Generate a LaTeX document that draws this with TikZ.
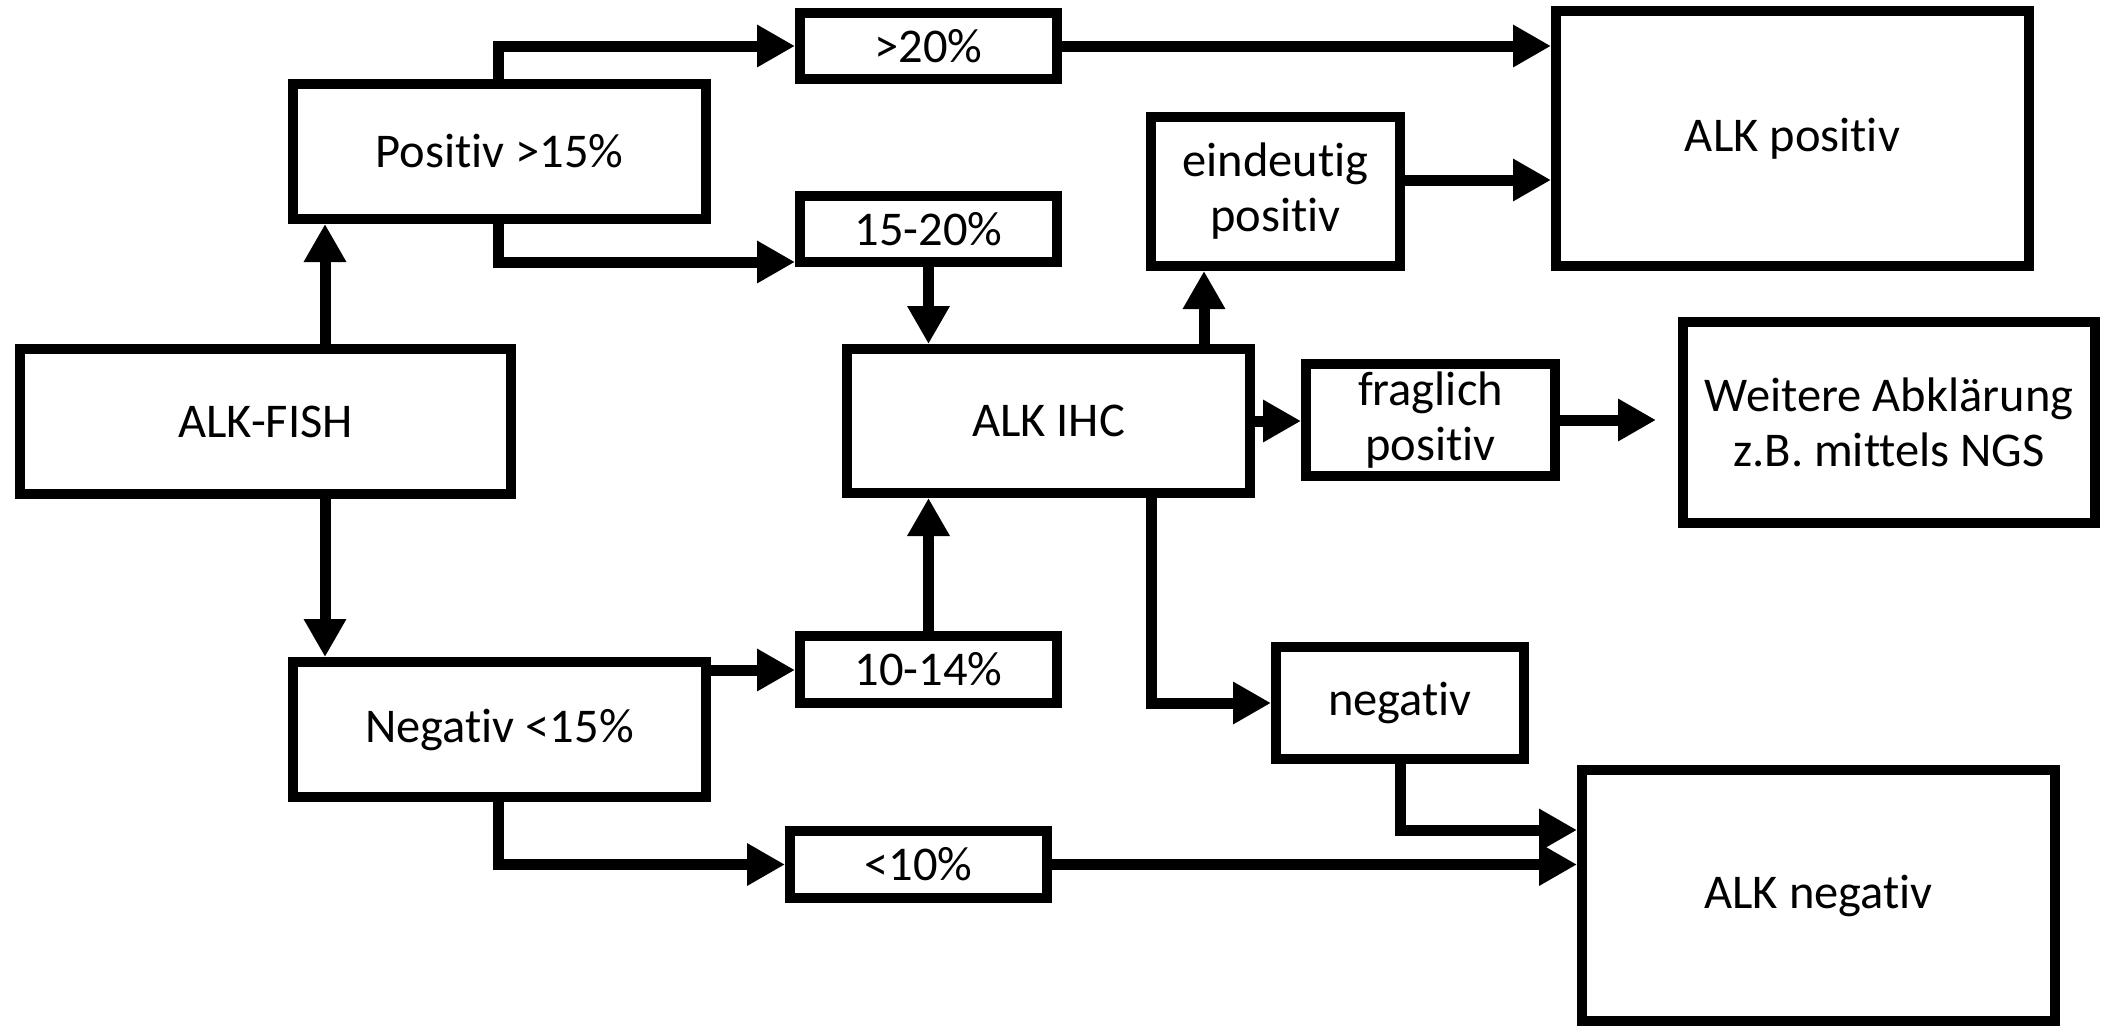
\documentclass[tikz,border=0pt]{standalone}
\usepackage{fontspec}
\setmainfont{Carlito}[Ligatures=NoCommon]
\usetikzlibrary{arrows.meta}
\begin{document}
\begin{tikzpicture}[x=1pt,y=-1pt,
  box/.style={draw=black,line width=10pt,fill=white,inner sep=0pt,align=center,
    font=\fontsize{48.5}{55}\selectfont},
  arr/.style={line width=11pt,-{Triangle[length=38pt,width=40pt]}}]
\useasboundingbox[fill=white] (0,0) rectangle (2103,1029);
% nodes
\node[box,minimum width=491pt,minimum height=145pt] (fish) at (265.5,421.5) {ALK-FISH};
\node[box,minimum width=413pt,minimum height=135pt] (pos) at (499.5,151.5) {Positiv >15\%};
\node[box,minimum width=413pt,minimum height=135pt] (neg) at (499.5,729.5) {Negativ <15\%};
\node[box,minimum width=257pt,minimum height=66pt] (p20) at (928.5,46) {>20\%};
\node[box,minimum width=257pt,minimum height=66pt] (p1520) at (928.5,229) {15-20\%};
\node[box,minimum width=257pt,minimum height=67pt] (p1014) at (928.5,669.5) {10-14\%};
\node[box,minimum width=257pt,minimum height=67pt] (p10) at (918.5,864.5) {<10\%};
\node[box,minimum width=403pt,minimum height=144pt] (ihc) at (1048.5,421) {ALK IHC};
\node[box,minimum width=249pt,minimum height=149pt] (eind) at (1275.5,191.5) {eindeutig\\positiv};
\node[box,minimum width=249pt,minimum height=112pt] (frag) at (1430.5,420) {fraglich\\positiv};
\node[box,minimum width=412pt,minimum height=201pt] (weit) at (1889,422.5) {Weitere Abkl\"arung\\z.B. mittels NGS};
\node[box,minimum width=473pt,minimum height=255pt] (alkpos) at (1792.5,138.5) {ALK positiv};
\node[box,minimum width=248pt,minimum height=112pt] (negv) at (1400,703) {negativ};
\node[box,minimum width=473pt,minimum height=251pt] (alkneg) at (1818.5,895.5) {ALK negativ};
% helper coordinates
\coordinate (fx) at ([xshift=59.5pt]fish.north);
\coordinate (fxs) at ([xshift=59.5pt]fish.south);
\coordinate (pa) at ([xshift=-1.5pt]pos.north);
\coordinate (pb) at ([xshift=-1.5pt]pos.south);
\coordinate (nb) at ([xshift=-1.5pt]neg.south);
\coordinate (q1520) at ([yshift=5pt]p1520.south west);
\coordinate (e1) at ([xshift=-71.5pt]eind.south);
\coordinate (e2) at ([yshift=11.5pt]eind.east);
\coordinate (i1) at ([xshift=102.5pt]ihc.south);
\coordinate (n1) at ([yshift=65.5pt]alkneg.west);
\coordinate (m1) at ([yshift=-0.5pt]p1014.west);
% connectors
\draw[arr] (fx) -- (fx |- pos.south);
\draw[arr] (fxs) -- (fxs |- neg.north);
\draw[arr] (pa) |- (p20.west);
\draw[arr] (pb) |- (q1520);
\draw[arr] (p1520.south) -- (p1520.south |- ihc.north);
\draw[arr] (p20.east) -- (p20.east -| alkpos.west);
\draw[arr] (m1 -| neg.east) -- (m1);
\draw[arr] (p1014.north) -- (p1014.north |- ihc.south);
\draw[arr] (nb) |- (p10.west);
\draw[arr] (e1 |- ihc.north) -- (e1);
\draw[arr] (e2) -- (e2 -| alkpos.west);
\draw[arr] (ihc.east) -- (ihc.east -| frag.west);
\draw[arr,shorten >=22pt] (frag.east) -- (frag.east -| weit.west);
\draw[arr] (i1) |- (negv.west);
\draw[arr] (negv.south) |- (n1);
\draw[arr] (p10.east) -- (p10.east -| alkneg.west);
\end{tikzpicture}
\end{document}
